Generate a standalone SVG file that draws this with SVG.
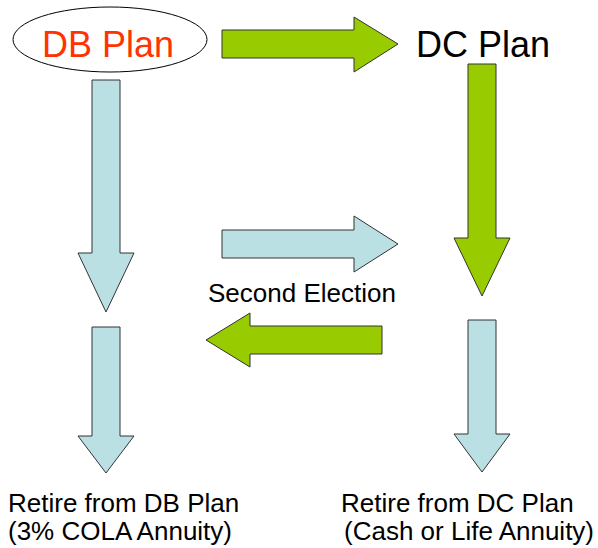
<svg xmlns="http://www.w3.org/2000/svg" width="598" height="548" viewBox="0 0 598 548">
  <style>
    .lbl { font-family: "Liberation Sans", Arial, sans-serif; fill: #000; }
    .big { font-size: 36px; }
    .small { font-size: 26px; }
    .green { fill: #99CC00; stroke: #333; stroke-width: 1; stroke-linejoin: miter; }
    .blue { fill: #BBE0E3; stroke: #333; stroke-width: 1; stroke-linejoin: miter; }
  </style>
  <rect width="598" height="548" fill="#fff"/>

  <!-- block arrows -->
  <g id="connectors">
    <!-- DB Plan to DC Plan -->
    <polygon class="green" points="222,30 354,30 354,17 398,44 354,72 354,58 222,58"/>
    <!-- DC Plan down -->
    <polygon class="green" points="468,64 496,64 496,238 510,238 482,296 454,238 468,238"/>
    <!-- DB Plan down -->
    <polygon class="blue" points="92,80 120,80 120,253 134,253 106,312 78,253 92,253"/>
    <!-- second election: DB to DC -->
    <polygon class="blue" points="222,230 354,230 354,216 398,244 354,272 354,258 222,258"/>
    <!-- second election: DC to DB -->
    <polygon class="green" points="382,326 250,326 250,313 206,340 250,367 250,354 382,354"/>
    <!-- retire from DB Plan -->
    <polygon class="blue" points="92,327 120,327 120,436 134,436 106,473 78,436 92,436"/>
    <!-- retire from DC Plan -->
    <polygon class="blue" points="468,320 496,320 496,434 510,434 482,472 454,434 468,434"/>
  </g>

  <g id="db-plan">
    <ellipse cx="110" cy="39.5" rx="97" ry="32.5" fill="#fff" stroke="#000" stroke-width="1"/>
    <text class="lbl big" x="42" y="57" style="fill:#FF3300">DB Plan</text>
  </g>

  <g id="dc-plan">
    <text class="lbl big" x="416" y="57">DC Plan</text>
  </g>

  <g id="second-election">
    <text class="lbl small" x="208" y="302">Second Election</text>
  </g>

  <g id="retire-db">
    <text class="lbl small" x="8" y="512">Retire from DB Plan</text>
    <text class="lbl small" x="8" y="540">(3% COLA Annuity)</text>
  </g>

  <g id="retire-dc">
    <text class="lbl small" x="341" y="512">Retire from DC Plan</text>
    <text class="lbl small" x="344" y="540">(Cash or Life Annuity)</text>
  </g>
</svg>
